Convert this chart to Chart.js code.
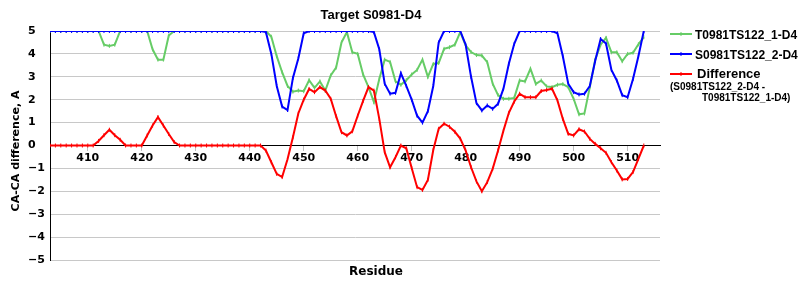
<!DOCTYPE html>
<html>
<head>
<meta charset="utf-8">
<title>Target S0981-D4</title>
<script src="https://cdn.jsdelivr.net/npm/chart.js@4.4.0/dist/chart.umd.min.js"></script>
<style>
    html, body { margin: 0; padding: 0; background: #fff; }
</style>
</head>
<body>
<canvas id="ca-chart" width="800" height="300"></canvas>
<script>
// residue numbers along the x axis
var residues = [
    403, 404, 405, 406, 407, 408, 409, 410, 411, 412, 413, 414, 415, 416, 417, 418, 419, 420,
    421, 422, 423, 424, 425, 426, 427, 428, 429, 430, 431, 432, 433, 434, 435, 436, 437, 438,
    439, 440, 441, 442, 443, 444, 445, 446, 447, 448, 449, 450, 451, 452, 453, 454, 455, 456,
    457, 458, 459, 460, 461, 462, 463, 464, 465, 466, 467, 468, 469, 470, 471, 472, 473, 474,
    475, 476, 477, 478, 479, 480, 481, 482, 483, 484, 485, 486, 487, 488, 489, 490, 491, 492,
    493, 494, 495, 496, 497, 498, 499, 500, 501, 502, 503, 504, 505, 506, 507, 508, 509, 510,
    511, 512, 513
];

// T0981TS122_1-D4 (green)
var model1 = [
    5, 5, 5, 5, 5, 5, 5, 5, 5,
    5, 4.4, 4.35, 4.4,
    5, 5, 5, 5, 5, 5,
    4.2, 3.75, 3.75, 4.8,
    5, 5, 5, 5, 5, 5, 5, 5, 5, 5, 5, 5, 5, 5, 5, 5, 5, 5,
    4.75, 3.9, 3.2, 2.6, 2.35, 2.4, 2.37, 2.85, 2.52, 2.8,
    2.4, 3.06, 3.4, 4.5, 4.95, 4.07, 4.0, 3.1, 2.55, 1.9,
    2.9, 3.75, 3.65, 2.8, 2.65, 2.85, 3.1, 3.3, 3.75, 3.0,
    3.56, 3.6, 4.22, 4.29, 4.4, 4.95, 4.37, 4.08, 3.95, 3.93,
    3.64, 2.7, 2.2, 2.04, 2.04, 2.08, 2.84, 2.8, 3.35, 2.69,
    2.84, 2.58, 2.55, 2.65, 2.68, 2.55, 2.04, 1.36, 1.4, 2.55,
    3.75, 4.4, 4.7, 4.07, 4.07, 3.68, 4.0, 4.05, 4.42, 4.73
];

// S0981TS122_2-D4 (blue)
var model2 = [
    5, 5, 5, 5, 5, 5, 5, 5, 5, 5, 5, 5, 5, 5, 5, 5, 5, 5, 5, 5,
    5, 5, 5, 5, 5, 5, 5, 5, 5, 5, 5, 5, 5, 5, 5, 5, 5, 5, 5, 5,
    4.95, 4.0, 2.6, 1.7, 1.55, 2.95, 3.8, 4.9,
    5, 5, 5, 5, 5, 5, 5, 5, 5, 5, 5, 5,
    4.95, 4.2, 2.7, 2.26, 2.3, 3.15, 2.6, 2.0, 1.3, 1.0, 1.5, 2.6, 4.5,
    5, 5, 5, 5,
    4.4, 3.0, 1.85, 1.53, 1.75, 1.6, 1.82, 2.48, 3.57, 4.44,
    5, 5, 5, 5, 5, 5, 5,
    4.9, 3.9, 2.7, 2.33, 2.23, 2.26, 2.6, 3.7, 4.65, 4.45, 3.3, 2.84, 2.2, 2.11, 2.9, 3.9, 5
];

// Difference (S0981TS122_2-D4 - T0981TS122_1-D4), red
var diff = [
    0, 0, 0, 0, 0, 0, 0, 0, 0,
    0.2, 0.45, 0.69, 0.45, 0.25,
    0, 0, 0, 0,
    0.44, 0.87, 1.24, 0.87, 0.5, 0.15,
    0, 0, 0, 0, 0, 0, 0, 0, 0, 0, 0, 0, 0, 0, 0, 0,
    -0.22, -0.73, -1.24, -1.38, -0.6, 0.36, 1.4, 2.0, 2.47, 2.33,
    2.55, 2.4, 2.04, 1.28, 0.58, 0.44, 0.62, 1.3, 1.95, 2.55,
    2.4, 1.16, -0.29, -0.95, -0.51, 0.0, -0.12, -0.98, -1.82, -1.94,
    -1.5, -0.2, 0.73, 0.95, 0.82, 0.6, 0.3, -0.22, -0.95, -1.57,
    -2.0, -1.6, -1.02, -0.22, 0.65, 1.43, 1.92, 2.26, 2.11, 2.11,
    2.11, 2.38, 2.42, 2.48, 1.97, 1.16, 0.51, 0.44, 0.71, 0.61,
    0.29, 0.07, -0.12, -0.32, -0.73, -1.09, -1.48, -1.46, -1.16, -0.58,
    0
];

var xTicks = [410, 420, 430, 440, 450, 460, 470, 480, 490, 500, 510];
var yTicks = [-5, -4, -3, -2, -1, 0, 1, 2, 3, 4, 5];

var chartTitle = "Target S0981-D4";
var xTitle = "Residue";
var yTitle = "CA-CA difference, A";
var seriesNames = ["T0981TS122_1-D4", "S0981TS122_2-D4", "Difference"];
var diffNote = ["(S0981TS122_2-D4 -", "T0981TS122_1-D4)"];
var colors = ["#66cc66", "#0000ff", "#ff0000"];

function toPoints(values) {
    var pts = [];
    for (var i = 0; i < residues.length; i++) {
        pts.push({ x: residues[i], y: values[i] });
    }
    return pts;
}

function lineSet(label, values, color, order) {
    return {
        label: label,
        data: toPoints(values),
        borderColor: color,
        backgroundColor: color,
        borderWidth: 2,
        pointStyle: 'line',
        pointRotation: 90,
        pointRadius: 2,
        pointBorderWidth: 1,
        pointBorderColor: color,
        tension: 0,
        fill: false,
        order: order
    };
}

// title, axis titles and the legend on the right
var textPlugin = {
    id: 'extraText',
    afterDraw: function(chart) {
        var ctx = chart.ctx;
        ctx.save();
        ctx.fillStyle = '#000';

        ctx.font = 'bold 13px "Liberation Sans", Arial, sans-serif';
        ctx.textAlign = 'center';
        ctx.textBaseline = 'alphabetic';
        ctx.fillText(chartTitle, 371, 19);

        ctx.font = 'bold 12px "DejaVu Sans", Verdana, sans-serif';
        ctx.fillText(xTitle, 376, 275);

        ctx.save();
        ctx.translate(16, 151);
        ctx.rotate(-Math.PI / 2);
        ctx.font = 'bold 11px "DejaVu Sans", Verdana, sans-serif';
        ctx.textBaseline = 'middle';
        ctx.fillText(yTitle, 0, 0);
        ctx.restore();

        // legend
        var rows = [34, 54, 74];
        for (var i = 0; i < 3; i++) {
            ctx.strokeStyle = colors[i];
            ctx.lineWidth = 2;
            ctx.beginPath();
            ctx.moveTo(670, rows[i]);
            ctx.lineTo(692, rows[i]);
            ctx.stroke();
            ctx.lineWidth = 1;
            ctx.beginPath();
            ctx.moveTo(681, rows[i] - 2);
            ctx.lineTo(681, rows[i] + 2);
            ctx.stroke();
        }
        ctx.textAlign = 'left';
        ctx.textBaseline = 'middle';
        ctx.font = 'bold 12px "Liberation Sans", Arial, sans-serif';
        ctx.fillText(seriesNames[0], 695, 35.5);
        ctx.fillText(seriesNames[1], 695, 55.5);
        ctx.font = 'bold 13px "Liberation Sans", Arial, sans-serif';
        ctx.fillText(seriesNames[2], 697, 74);
        ctx.font = 'bold 10px "Liberation Sans", Arial, sans-serif';
        ctx.fillText(diffNote[0], 670, 87.5);
        ctx.fillText(diffNote[1], 702, 98);
        ctx.restore();
    }
};

var ctx = document.getElementById('ca-chart').getContext('2d');
var chart = new Chart(ctx, {
    type: 'line',
    data: {
        datasets: [
            lineSet(seriesNames[2], diff, colors[2], 1),
            lineSet(seriesNames[1], model2, colors[1], 2),
            lineSet(seriesNames[0], model1, colors[0], 3)
        ]
    },
    options: {
        responsive: false,
        animation: false,
        layout: { padding: { left: 28, right: 140, top: 31, bottom: 40 } },
        plugins: {
            legend: { display: false },
            title: { display: false },
            tooltip: { enabled: false }
        },
        scales: {
            x: {
                type: 'linear',
                position: { y: 0 },
                min: 403,
                max: 516,
                afterBuildTicks: function(axis) {
                    axis.ticks = xTicks.map(function(v) { return { value: v }; });
                },
                grid: { drawOnChartArea: false, drawTicks: true, tickLength: 5, color: '#c0c0c0' },
                border: { color: '#000', width: 1 },
                ticks: {
                    color: '#000',
                    padding: 1,
                    maxRotation: 0,
                    autoSkip: false,
                    font: { family: '"DejaVu Sans", Verdana, sans-serif', size: 11, weight: 'bold' }
                }
            },
            y: {
                min: -5,
                max: 5,
                afterBuildTicks: function(axis) {
                    axis.ticks = yTicks.map(function(v) { return { value: v }; });
                },
                afterFit: function(scale) { scale.width = 22; },
                grid: {
                    drawTicks: false,
                    color: function(c) { return c.tick && c.tick.value === 0 ? '#000' : '#c8c8c8'; }
                },
                border: { color: '#000', width: 1 },
                ticks: {
                    crossAlign: 'far',
                    padding: 0,
                    color: '#000',
                    font: { family: '"DejaVu Sans", Verdana, sans-serif', size: 11, weight: 'bold' },
                    callback: function(v) { return String(v).replace('-', '\u2212'); }
                }
            }
        }
    },
    plugins: [textPlugin]
});
</script>
</body>
</html>
